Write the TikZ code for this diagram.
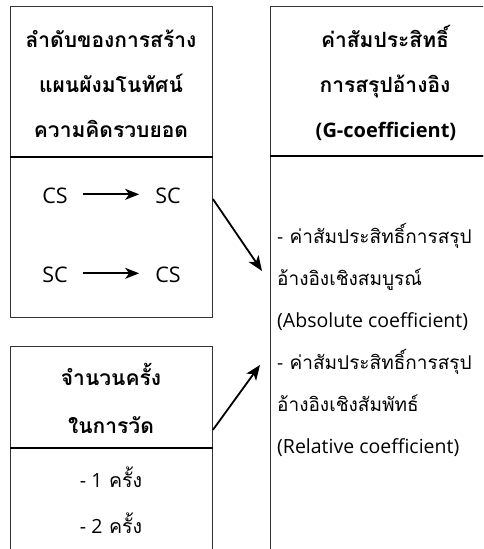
\documentclass[tikz,border=0pt]{standalone}
\usepackage{fontspec}
\setmainfont{Loma}[Script=Thai]
\newfontfamily\lat{Open Sans}
\usetikzlibrary{arrows.meta,calc}
\begin{document}
\begin{tikzpicture}[x=1pt,y=-1pt,
  box/.style={draw=black!80, line width=0.9pt, inner sep=0pt, anchor=north west},
  divider/.style={draw=black, line width=1.5pt},
  head/.style={font=\bfseries\fontsize{21}{21}\selectfont, anchor=base, inner sep=0pt},
  txt/.style={font=\fontsize{19.5}{19.5}\selectfont, anchor=base, inner sep=0pt},
  abbr/.style={font=\lat\fontsize{21.5}{21.5}\selectfont, anchor=base, inner sep=0pt},
  txtl/.style={font=\fontsize{19}{19}\selectfont, anchor=base west, inner sep=0pt},
  eng/.style={font=\lat\fontsize{19.5}{19.5}\selectfont},
  link/.style={draw=black, line width=1.8pt, -{Stealth[length=15pt,width=12pt,inset=4pt]}},
  flow/.style={draw=black, line width=1.8pt, -{Stealth[length=14pt,width=11pt,inset=4pt]}}
]
\useasboundingbox (0,0) rectangle (483,549);
\clip (0,0) rectangle (483,549);
% left top
\node[box, minimum width=202pt, minimum height=150pt] (lthead) at (10,6) {};
\node[box, minimum width=202pt, minimum height=161pt] (ltbody) at (10,156) {};
\draw[divider] (lthead.south west) -- (lthead.south east);
\node[head] (lt1) at (111,47) {ลำดับของการสร้าง};
\node[head] (lt2) at (111,92) {แผนผังมโนทัศน์};
\node[head] (lt3) at (111,137) {ความคิดรวบยอด};
\node[abbr] (cs1) at (55,203) {CS};
\node[abbr] (sc1) at (168,203) {SC};
\node[abbr] (sc2) at (55,282) {SC};
\node[abbr] (cs2) at (168,282) {CS};
\draw[flow] ($(cs1.east)+(15,-1)$) -- ($(sc1.west)+(-16,-1)$);
\draw[flow] ($(sc2.east)+(15,-1)$) -- ($(cs2.west)+(-16,-1)$);
% left bottom
\node[box, minimum width=202pt, minimum height=101pt] (lbhead) at (10,346) {};
\node[box, minimum width=202pt, minimum height=110pt] (lbbody) at (10,447) {};
\draw[divider] (lbhead.south west) -- (lbhead.south east);
\node[head] (lb1) at (111,385) {จำนวนครั้ง};
\node[head] (lb2) at (111,433) {ในการวัด};
\node[txt] (lb3) at (111,487) {{\lat - 1} ครั้ง};
\node[txt] (lb4) at (111,533) {{\lat - 2} ครั้ง};
% right
\node[box, minimum width=230pt, minimum height=149pt] (rhead) at (270,6) {};
\node[box, minimum width=230pt, minimum height=410pt] (rbody) at (270,155) {};
\draw[divider] (rhead.south west) -- (rhead.south east);
\node[head] (r1) at (385,47) {ค่าสัมประสิทธิ์};
\node[head] (r2) at (385,92) {การสรุปอ้างอิง};
\node[head, font=\lat\bfseries\fontsize{20}{20}\selectfont] (r3) at (386,137) {(G-coefficient)};
\node[txtl] (b1) at (277,243) {{\lat -} ค่าสัมประสิทธิ์การสรุป};
\node[txtl] (b2) at (277,285) {อ้างอิงเชิงสมบูรณ์};
\node[txtl, eng] (b3) at (277,327) {(Absolute coefficient)};
\node[txtl] (b4) at (277,369) {{\lat -} ค่าสัมประสิทธิ์การสรุป};
\node[txtl] (b5) at (277,411) {อ้างอิงเชิงสัมพัทธ์};
\node[txtl, eng] (b6) at (277,453) {(Relative coefficient)};
% connectors
\coordinate (e1) at (262,271);
\coordinate (e2) at (260,365);
\draw[link] ($(ltbody.north east)+(0,43)$) -- (e1);
\draw[link] ($(lbhead.south east)+(0,-18)$) -- (e2);
\end{tikzpicture}
\end{document}
